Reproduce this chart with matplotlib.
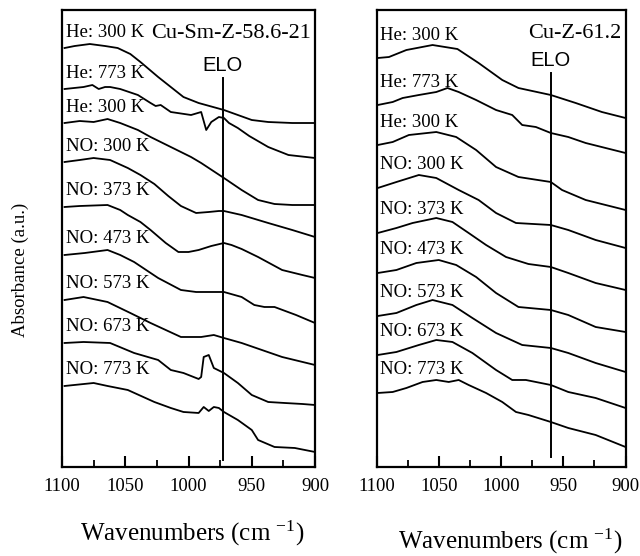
import matplotlib
matplotlib.use("Agg")
import matplotlib.pyplot as plt

plt.rcParams["font.family"] = "Liberation Serif"
plt.rcParams["mathtext.fontset"] = "custom"
plt.rcParams["mathtext.rm"] = "Liberation Serif"
plt.rcParams["mathtext.it"] = "Liberation Serif:italic"

# Cu-Sm-Z-58.6-21 spectra (offset stacked, arbitrary absorbance units)
sm_labels = ["He: 300 K", "He: 773 K", "He: 300 K", "NO: 300 K", "NO: 373 K",
             "NO: 473 K", "NO: 573 K", "NO: 673 K", "NO: 773 K"]

sm_he300a_wn = [1098, 1090, 1078, 1066, 1056, 1046, 1038, 1024, 1014, 1004, 992, 972, 950, 937, 918, 900]
sm_he300a_a = [419, 421, 423, 421, 419, 413, 405, 390, 380, 370, 364, 357, 347, 345, 344, 344]

sm_he773_wn = [1098, 1083, 1076, 1071, 1066, 1062, 1054, 1040, 1030, 1026, 1022, 1014, 998, 990,
               986, 982, 976, 972, 968, 961, 952, 937, 921, 900]
sm_he773_a = [378, 380, 382, 378, 380, 380, 378, 372, 364, 361, 362, 355, 352, 355,
              337, 345, 350, 349, 344, 339, 331, 320, 312, 309]

sm_he300b_wn = [1098, 1086, 1075, 1064, 1054, 1040, 1030, 1014, 998, 990, 972, 958, 945, 932, 918, 900]
sm_he300b_a = [344, 346, 345, 348, 344, 337, 330, 320, 310, 304, 289, 277, 267, 263, 262, 262]

sm_no300_wn = [1098, 1086, 1075, 1062, 1048, 1038, 1027, 1016, 1006, 994, 984, 976, 972, 958, 937, 918, 900]
sm_no300_a = [305, 307, 309, 307, 299, 292, 283, 271, 261, 254, 255, 256, 256, 252, 244, 237, 230]

sm_no373_wn = [1098, 1086, 1064, 1054, 1048, 1038, 1030, 1018, 1008, 1000, 992, 982, 972, 966,
               958, 945, 926, 910, 900]
sm_no373_a = [260, 261, 262, 257, 252, 245, 237, 224, 215, 215, 217, 221, 224, 222,
              218, 210, 197, 192, 189]

sm_no473_wn = [1098, 1082, 1064, 1054, 1043, 1024, 1006, 994, 984, 972, 958, 948, 940, 932, 915, 900]
sm_no473_a = [212, 214, 217, 212, 205, 189, 177, 175, 175, 175, 170, 162, 160, 160, 152, 144]

sm_no573_wn = [1098, 1083, 1064, 1046, 1030, 1006, 990, 980, 972, 958, 942, 926, 900]
sm_no573_a = [167, 170, 165, 154, 144, 130, 130, 132, 129, 124, 117, 110, 102]

sm_no673_wn = [1098, 1083, 1062, 1043, 1024, 1014, 1004, 992, 990, 988, 984, 980, 972,
               961, 950, 937, 924, 910, 900]
sm_no673_a = [124, 125, 124, 114, 107, 97, 94, 88, 90, 110, 112, 99, 94,
              84, 72, 65, 64, 63, 62]

sm_no773_wn = [1098, 1075, 1064, 1048, 1027, 1014, 1004, 992, 988, 984, 980, 976, 972,
               961, 950, 945, 932, 916, 900]
sm_no773_a = [81, 84, 81, 77, 65, 59, 55, 54, 60, 56, 60, 59, 55,
              47, 37, 27, 20, 19, 15]

# Cu-Z-61.2 spectra
cu_labels = sm_labels

cu_he300a_wn = [1099, 1090, 1076, 1055, 1035, 1018, 999, 986, 960, 940, 919, 900]
cu_he300a_a = [409, 410, 417, 422, 418, 404, 387, 379, 372, 364, 355, 349]

cu_he773_wn = [1099, 1087, 1079, 1066, 1052, 1043, 1034, 1020, 1004, 991, 983, 972, 960, 946, 932, 900]
cu_he773_a = [362, 365, 369, 372, 375, 379, 375, 367, 357, 352, 342, 340, 334, 330, 324, 314]

cu_he300b_wn = [1099, 1087, 1074, 1052, 1036, 1020, 1004, 986, 960, 951, 932, 900]
cu_he300b_a = [322, 325, 332, 335, 330, 317, 300, 290, 285, 277, 267, 257]

cu_no300_wn = [1099, 1084, 1066, 1052, 1034, 1018, 1004, 988, 960, 946, 924, 900]
cu_no300_a = [279, 285, 292, 289, 277, 267, 254, 244, 242, 237, 227, 219]

cu_no373_wn = [1099, 1084, 1071, 1052, 1039, 1026, 1012, 996, 978, 960, 946, 924, 900]
cu_no373_a = [234, 239, 244, 249, 245, 234, 222, 210, 203, 200, 194, 184, 177]

cu_no473_wn = [1099, 1084, 1068, 1050, 1036, 1020, 1004, 986, 960, 946, 924, 900]
cu_no473_a = [194, 197, 204, 207, 202, 190, 174, 160, 157, 152, 140, 135]

cu_no573_wn = [1099, 1084, 1068, 1055, 1039, 1023, 1004, 983, 960, 946, 924, 900]
cu_no573_a = [151, 154, 162, 167, 162, 149, 134, 122, 119, 114, 104, 95]

cu_no673_wn = [1099, 1084, 1066, 1052, 1039, 1023, 1004, 991, 980, 960, 946, 924, 900]
cu_no673_a = [112, 115, 122, 127, 125, 114, 97, 87, 87, 82, 75, 69, 59]

cu_no773_wn = [1099, 1087, 1076, 1063, 1052, 1042, 1034, 1026, 1012, 999, 988, 978, 960, 946, 924, 900]
cu_no773_a = [74, 75, 79, 85, 87, 85, 87, 82, 74, 65, 55, 52, 45, 39, 32, 20]

# ELO band positions (cm-1)
sm_elo = 973
cu_elo = 960


def draw_panel(ax, spectra, labels, elo, title, label_dy, elo_span):
    for (wn, a), lab in zip(spectra, labels):
        ax.plot(wn, a, color="black", lw=1.3, solid_joinstyle="round")
        ax.text(1097, a[0] + label_dy, lab, fontsize=13.5, va="center", ha="left")

    # ELO marker line
    ax.plot([elo, elo], elo_span, color="black", lw=1.4)
    ax.text(elo, elo_span[1] + 3, "ELO", family="Liberation Sans", fontsize=14.5,
            ha="center", va="bottom")
    ax.text(903, 434, title, fontsize=16, ha="right", va="center")

    ax.set_xlim(1100, 900)
    ax.set_ylim(0, 457)
    ax.set_xticks([1100, 1050, 1000, 950, 900])
    ax.set_xticks([1075, 1025, 975, 925], minor=True)
    ax.set_yticks([])
    ax.tick_params(axis="x", which="major", direction="in", length=8, width=1.5,
                   labelsize=13.5, pad=8)
    ax.tick_params(axis="x", which="minor", direction="in", length=5, width=1.3)
    for sp in ax.spines.values():
        sp.set_linewidth(1.6)


fig = plt.figure(figsize=(6.4, 5.56), dpi=100)
ax1 = fig.add_axes([0.0969, 0.1601, 0.3953, 0.8219])
ax2 = fig.add_axes([0.5883, 0.1601, 0.3891, 0.8219])

sm_spectra = [(sm_he300a_wn, sm_he300a_a), (sm_he773_wn, sm_he773_a), (sm_he300b_wn, sm_he300b_a),
              (sm_no300_wn, sm_no300_a), (sm_no373_wn, sm_no373_a), (sm_no473_wn, sm_no473_a),
              (sm_no573_wn, sm_no573_a), (sm_no673_wn, sm_no673_a), (sm_no773_wn, sm_no773_a)]
cu_spectra = [(cu_he300a_wn, cu_he300a_a), (cu_he773_wn, cu_he773_a), (cu_he300b_wn, cu_he300b_a),
              (cu_no300_wn, cu_no300_a), (cu_no373_wn, cu_no373_a), (cu_no473_wn, cu_no473_a),
              (cu_no573_wn, cu_no573_a), (cu_no673_wn, cu_no673_a), (cu_no773_wn, cu_no773_a)]

draw_panel(ax1, sm_spectra, sm_labels, sm_elo, "Cu-Sm-Z-58.6-21", 16, (7, 389))
draw_panel(ax2, cu_spectra, cu_labels, cu_elo, "Cu-Z-61.2", 23, (10, 394))

fig.text(0.300, 0.041, r"Wavenumbers (cm $^{-1}$)", fontsize=18, ha="center", va="center")
fig.text(0.797, 0.026, r"Wavenumbers (cm $^{-1}$)", fontsize=18, ha="center", va="center")
fig.text(0.032, 0.515, "Absorbance (a.u.)", fontsize=13.5, rotation=90, ha="center", va="center")

fig.savefig("out.png", dpi=100)
